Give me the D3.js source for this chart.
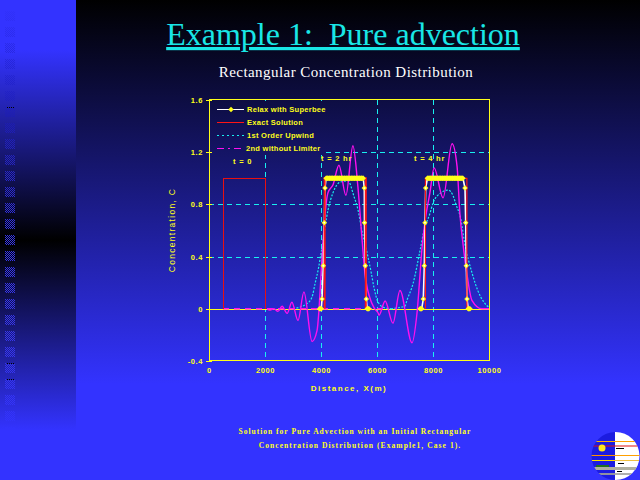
<!DOCTYPE html>
<html><head><meta charset="utf-8">
<script src="https://cdnjs.cloudflare.com/ajax/libs/d3/7.8.5/d3.min.js"></script>
<style>html,body{margin:0;padding:0;background:#000}svg{display:block}text{font-family:"Liberation Sans",Arial,sans-serif}</style>
</head><body><svg id="c" width="640" height="480"></svg>
<script>
const xTicks=[0,2000,4000,6000,8000,10000];
const yTicks=[-0.4,0,0.4,0.8,1.2,1.6];
const yTickLabels=["-0.4","0","0.4","0.8","1.2","1.6"];
const exactT0=[[500,0],[500,1],[2000,1],[2000,0]];
const exactT2=[[4130,0],[4130,1],[5600,1],[5600,0]];
const exactT4=[[7730,0],[7730,1],[9210,1],[9210,0]];
const upwindT2=[[3000,0],[3500,.04],[3680,.09],[3790,.195],[3900,.3],[4036,.47],[4250,.757],[4430,.89],[4680,.97],[4960,.98],[5180,.86],[5320,.76],[5460,.6],[5570,.5],[5800,.27],[5890,.165],[6040,.05],[6250,.01],[6500,0]];
const upwindT4=[[6500,0],[6800,.01],[7000,.02],[7070,.065],[7290,.195],[7540,.45],[7680,.6],[7890,.73],[8000,.81],[8290,.89],[8540,.91],[8710,.87],[8820,.8],[9000,.68],[9110,.53],[9400,.27],[9600,.14],[9820,.05],[10000,.01]];
const secondT2=[[2070,0],[2180,-.01],[2320,0],[2460,-.02],[2610,.02],[2790,-.035],[2960,.05],[3180,-.09],[3390,.13],[3680,-.25],[3860,-.165],[4040,.4],[4110,.63],[4250,.89],[4430,.95],[4640,1.1],[4890,.87],[5140,1.25],[5320,.93],[5460,.55],[5570,.27],[5820,.04],[6040,-.03]];
const secondT4=[[6040,-.03],[6070,-.05],[6290,.06],[6570,-.11],[6820,.14],[7250,-.26],[7430,-.03],[7610,.47],[7710,.66],[7890,.89],[8040,1.08],[8360,.85],[8680,1.265],[8860,1.09],[8960,.73],[9070,.5],[9210,.27],[9390,.065],[9750,0],[10000,0]];
const secondZero=[[500,0],[6200,0]];
const superT2=[[3950,0],[3980,0],[4010,0],[4036,.075],[4082,.33],[4118,.66],[4143,.925],[4180,1],[4240,1],[4300,1],[4360,1],[4420,1],[4480,1],[4540,1],[4600,1],[4660,1],[4720,1],[4780,1],[4840,1],[4900,1],[4960,1],[5020,1],[5080,1],[5140,1],[5200,1],[5260,1],[5320,1],[5380,1],[5440,1],[5510,1],[5546,.925],[5553,.66],[5582,.33],[5618,.075],[5650,0],[5680,0],[5710,0]];
const superT4=[[7540,0],[7570,0],[7596,0],[7654,.075],[7689,.33],[7714,.66],[7739,.925],[7800,1],[7860,1],[7920,1],[7980,1],[8040,1],[8100,1],[8160,1],[8220,1],[8280,1],[8340,1],[8400,1],[8460,1],[8520,1],[8580,1],[8640,1],[8700,1],[8760,1],[8820,1],[8880,1],[8940,1],[9000,1],[9070,1],[9143,.925],[9168,.66],[9189,.33],[9214,.075],[9260,0],[9286,0],[9320,0]];
const legendLabels=["Relax with Superbee","Exact Solution","1st Order Upwind","2nd without Limiter"];
const timeLabels=[["t = 0",233,161],["t = 2 hr",321,158],["t = 4 hr",414,158]];
const captionLines=["Solution for Pure Advection with an Initial Rectangular","Concentration Distribution (Example1, Case 1)."];
const squareRows=d3.range(0,29);
const dotRows=[107,363,379];
const logoStripesLeft=[[441,"#ffb000"],[445.5,"#e01010"],[455,"#ff9000"],[460,"#ffe000"]];
const logoStripesRight=[[441,"#ffa000"],[445.5,"#e01010"],[455,"#ffa000"],[460,"#f0c040"]];

const svg=d3.select("#c"),defs=svg.append("defs");
const grad=(id,stops)=>{const g=defs.append("linearGradient").attr("id",id).attr("gradientUnits","userSpaceOnUse").attr("x1",0).attr("y1",0).attr("x2",0).attr("y2",480);
  stops.forEach(s=>g.append("stop").attr("offset",s[0]).attr("stop-color",s[1]));};
grad("main",[[0,"#000000"],[.8,"#3333ff"],[1,"#3333ff"]]);
grad("strip",[[0,"#3333ff"],[.104,"#3333ff"],[.5,"#000000"],[.896,"#3333ff"],[1,"#3333ff"]]);
grad("chk",[[0,"#3333ff"],[.08,"#2c2cee"],[.25,"#1c1cb0"],[.38,"#2828c8"],[.5,"#3535e6"],[.7,"#3636e8"],[.9,"#3333ff"],[1,"#3333ff"]]);
const pat=defs.append("pattern").attr("id","checker").attr("patternUnits","userSpaceOnUse").attr("width",2).attr("height",2);
pat.append("rect").attr("width",1).attr("height",1).attr("fill","#fff");
pat.append("rect").attr("x",1).attr("y",1).attr("width",1).attr("height",1).attr("fill","#fff");
const mask=defs.append("mask").attr("id","chkmask").attr("maskUnits","userSpaceOnUse").attr("x",0).attr("y",0).attr("width",76).attr("height",480);
mask.append("rect").attr("width",76).attr("height",480).attr("fill","url(#checker)");
defs.append("clipPath").attr("id","logo").append("circle").attr("cx",615.5).attr("cy",456).attr("r",24);

svg.append("rect").attr("width",640).attr("height",480).attr("fill","url(#main)");
svg.append("rect").attr("width",76).attr("height",480).attr("fill","url(#strip)");
svg.append("g").attr("mask","url(#chkmask)").selectAll("rect").data(squareRows).join("rect")
  .attr("x",5).attr("y",k=>11+16*k).attr("width",10).attr("height",10).attr("fill","url(#chk)");
svg.append("g").attr("mask","url(#chkmask)").selectAll("rect").data(dotRows).join("rect").attr("x",6).attr("y",d=>d).attr("width",9).attr("height",1).attr("fill","#000");

const x=d3.scaleLinear().domain([0,10000]).range([209,489]);
const y=d3.scaleLinear().domain([-0.4,1.6]).range([361,100]);
const line=d3.line().x(d=>x(d[0])).y(d=>y(d[1]));
const smooth=d3.line().x(d=>x(d[0])).y(d=>y(d[1])).curve(d3.curveMonotoneX);
const CY="#19f0f0",YL="#ffff19",MG="#ff10f0",RD="#ff1414";

// grid
const grid=svg.append("g").attr("stroke",CY).attr("stroke-width",1).attr("stroke-dasharray","5 4").attr("shape-rendering","crispEdges");
grid.selectAll(".gx").data([2000,4000,6000,8000]).join("line").attr("x1",d=>x(d)+.5).attr("x2",d=>x(d)+.5).attr("y1",100).attr("y2",361);
grid.selectAll(".gy").data([.4,.8,1.2]).join("line").attr("x1",209).attr("x2",489).attr("y1",d=>Math.round(y(d))+.5).attr("y2",d=>Math.round(y(d))+.5);
// legend backing hides grid
svg.append("rect").attr("x",210).attr("y",101).attr("width",116).attr("height",54).attr("fill","url(#main)");

// frame & axes
svg.append("rect").attr("x",x(0)+.5).attr("y",y(1.6)-.5).attr("width",280).attr("height",261).attr("fill","none").attr("stroke",YL).attr("stroke-width",1).attr("shape-rendering","crispEdges");
svg.append("line").attr("x1",209).attr("x2",489).attr("y1",309.5).attr("y2",309.5).attr("stroke",YL).attr("shape-rendering","crispEdges");
const ax=svg.append("g").attr("transform","translate(0,361)").call(d3.axisBottom(x).tickValues(xTicks).tickSize(0).tickPadding(7).tickFormat(d3.format("d")));
const ay=svg.append("g").attr("transform","translate(209,0)").call(d3.axisLeft(y).tickValues(yTicks).tickSize(3).tickPadding(3).tickFormat((d,i)=>yTickLabels[i]));
ax.select(".domain").remove();ay.select(".domain").remove();
ay.selectAll("line").attr("stroke",YL).attr("x2",-3).attr("x1",3).attr("shape-rendering","crispEdges");
[ax,ay].forEach(a=>a.selectAll("text").attr("fill",YL).attr("font-size",7.5).attr("font-weight","bold").style("font-family",'"Liberation Sans"').style("letter-spacing","0.6px"));
const tt=(s,xp,yp,o={})=>svg.append("text").text(s).attr("x",xp).attr("y",yp).attr("fill",o.f||YL).attr("font-size",o.s||7.5).attr("font-weight",o.w||"bold").attr("text-anchor",o.a||"start").style("letter-spacing",(o.l||0)+"px").style("font-family",o.ff||'"Liberation Sans"').attr("transform",o.t||null);
tt("Distance, X(m)",349,391,{a:"middle",l:1.5,s:8});
tt("Concentration, C",175,230,{a:"middle",l:1.3,s:8.5,w:"normal",t:"rotate(-90 175 230)"});

// series
const path=(d,gen,c,w,dash)=>svg.append("path").attr("d",gen(d)).attr("fill","none").attr("stroke",c).attr("stroke-width",w).attr("stroke-dasharray",dash||null);
path(upwindT2,smooth,CY,1.2,"2 1.5");
path(upwindT4,smooth,CY,1.2,"2 1.5");
path(secondZero,line,MG,1.4,"6 5");
path(secondT2,smooth,MG,1.4);
path(secondT4,smooth,MG,1.4);
path(exactT0,line,"#e81010",1).attr("shape-rendering","crispEdges");
path(superT2,line,"#fff",1.6);
path(superT4,line,"#fff",1.6);
path(exactT2,line,RD,2);
path(exactT4,line,RD,1.2);
path(superT2.filter(d=>d[1]===1),line,YL,5);
path(superT4.filter(d=>d[1]===1),line,YL,5);
const sym=d3.symbol().type(d3.symbolSquare).size(15);
const all=superT2.concat(superT4);
svg.append("g").selectAll("path").data(all).join("path").attr("d",sym).attr("transform",d=>`translate(${x(d[0])},${y(d[1])}) rotate(45)`).attr("fill",YL);
svg.append("g").selectAll("circle").data(all.filter(d=>d[1]>0&&d[1]<1)).join("circle").attr("cx",d=>x(d[0])).attr("cy",d=>y(d[1])).attr("r",.9).attr("fill","#fff");
timeLabels.forEach(t=>tt(t[0],t[1],t[2]+2.5,{l:.8,s:7.5}));

// legend
const lgY=[109,122,135,148];
const lg=svg.append("g").attr("shape-rendering","crispEdges");
lg.append("line").attr("x1",217).attr("x2",244).attr("y1",lgY[0]+.5).attr("y2",lgY[0]+.5).attr("stroke","#fff").attr("stroke-width",1);
lg.append("path").attr("d",d3.symbol().type(d3.symbolSquare).size(15)).attr("transform",`translate(231,${lgY[0]+.5}) rotate(45)`).attr("fill",YL).attr("shape-rendering","auto");
lg.append("line").attr("x1",217).attr("x2",244).attr("y1",lgY[1]+.5).attr("y2",lgY[1]+.5).attr("stroke",RD).attr("stroke-width",1);
lg.append("line").attr("x1",217).attr("x2",244).attr("y1",lgY[2]+.5).attr("y2",lgY[2]+.5).attr("stroke",CY).attr("stroke-width",1).attr("stroke-dasharray","2 3");
lg.append("line").attr("x1",217).attr("x2",242).attr("y1",lgY[3]+.5).attr("y2",lgY[3]+.5).attr("stroke",MG).attr("stroke-width",1).attr("stroke-dasharray","7 4 2 4");
legendLabels.forEach((s,i)=>tt(s,i==3?246:247,lgY[i]+2.5,{l:.28,s:7.5}));

// titles
const SF='"Liberation Serif"';
tt("Example 1:  Pure advection",343,45,{a:"middle",f:"#19e6e6",s:32,w:"normal",ff:SF}).style("white-space","pre").attr("text-decoration","underline");
tt("Rectangular Concentration Distribution",346,77,{a:"middle",f:"#fff",s:15,w:"normal",ff:SF,l:.45});
tt(captionLines[0],355,434,{a:"middle",s:7.5,ff:SF,l:1});
tt(captionLines[1],360,448,{a:"middle",s:7.5,ff:SF,l:1.08});

// logo
const logo=svg.append("g").attr("clip-path","url(#logo)");
logo.append("rect").attr("x",590).attr("y",430).attr("width",25).attr("height",50).attr("fill","#1c1ce0");
logo.append("rect").attr("x",615).attr("y",430).attr("width",25).attr("height",50).attr("fill","#fff");
logo.selectAll(".l").data(logoStripesLeft).join("rect").attr("x",590).attr("y",d=>d[0]).attr("width",25).attr("height",1).attr("fill",d=>d[1]);
logo.selectAll(".r").data(logoStripesRight).join("rect").attr("x",615).attr("y",d=>d[0]).attr("width",25).attr("height",1).attr("fill",d=>d[1]);
logo.append("circle").attr("cx",602).attr("cy",448).attr("r",3.5).attr("fill","#ffe81a");
logo.append("rect").attr("x",594).attr("y",467).attr("width",21).attr("height",3).attr("fill","#b0b0a0");
logo.append("rect").attr("x",596).attr("y",465).attr("width",13).attr("height",2).attr("fill","#207020");
logo.append("rect").attr("x",598).attr("y",473).attr("width",17).attr("height",2).attr("fill","#9090a0");
logo.append("rect").attr("x",615).attr("y",467).attr("width",22).attr("height",3).attr("fill","#b0b0a0");
logo.append("rect").attr("x",615).attr("y",473).attr("width",17).attr("height",2).attr("fill","#b0b0b0");
logo.append("rect").attr("x",616).attr("y",448).attr("width",8).attr("height",1).attr("fill","#000");
logo.append("rect").attr("x",618).attr("y",463).attr("width",6).attr("height",1).attr("fill","#000");
logo.append("rect").attr("x",617).attr("y",471).attr("width",5).attr("height",1).attr("fill","#000");
</script></body></html>
